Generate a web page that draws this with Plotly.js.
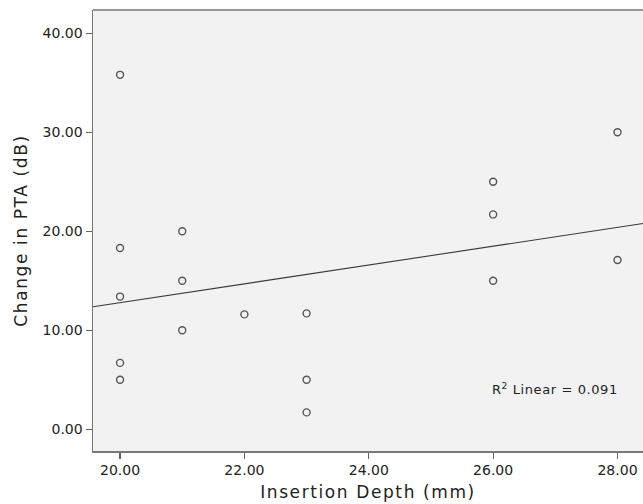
<!DOCTYPE html>
<html>
<head>
<meta charset="utf-8">
<script src="https://cdn.plot.ly/plotly-3.0.1.min.js"></script>
<style>
html,body{margin:0;padding:0;background:#fff;}
#chart{width:643px;height:504px;}
#chart .xtitle, #chart .ytitle{letter-spacing:1.6px;}
#chart .annotation-text{letter-spacing:0.6px;}
</style>
</head>
<body>
<div id="chart"></div>
<script>
// Data
const insertionDepth = [20, 20, 20, 20, 20, 21, 21, 21, 22, 23, 23, 23, 26, 26, 26, 28, 28];
const changeInPTA   = [35.8, 18.3, 13.4, 6.7, 5.0, 20.0, 15.0, 10.0, 11.6, 11.7, 5.0, 1.7, 25.0, 21.7, 15.0, 30.0, 17.1];
const xTickVals = [20, 22, 24, 26, 28];
const yTickVals = [0, 10, 20, 30, 40];
const r2Label = 'R<sup>2</sup> Linear = 0.091';

const xRange = [19.565, 28.41];
const yRange = [-2.2, 42.35];

// least squares fit from the data
const n = insertionDepth.length;
const mx = insertionDepth.reduce((a, b) => a + b, 0) / n;
const my = changeInPTA.reduce((a, b) => a + b, 0) / n;
let sxy = 0, sxx = 0;
for (let i = 0; i < n; i++) {
  sxy += (insertionDepth[i] - mx) * (changeInPTA[i] - my);
  sxx += (insertionDepth[i] - mx) ** 2;
}
const slope = sxy / sxx;
const intercept = my - slope * mx;
const fitX = [xRange[0], xRange[1]];
const fitY = fitX.map(x => intercept + slope * x);

const font = 'DejaVu Sans, sans-serif';

Plotly.newPlot('chart', [
  {
    x: fitX, y: fitY, mode: 'lines', type: 'scatter',
    line: {color: '#3a3a3a', width: 1.1}, hoverinfo: 'skip', cliponaxis: true
  },
  {
    x: insertionDepth, y: changeInPTA, mode: 'markers', type: 'scatter',
    marker: {symbol: 'circle-open', size: 7, color: '#555', line: {width: 1.4, color: '#555'}}
  }
], {
  width: 643, height: 504,
  margin: {l: 93, r: 0, t: 10, b: 53},
  paper_bgcolor: '#ffffff',
  plot_bgcolor: '#f2f2f2',
  showlegend: false,
  font: {family: font, color: '#222', size: 14},
  xaxis: {
    range: xRange, tickvals: xTickVals, ticktext: xTickVals.map(v => v.toFixed(2)),
    showgrid: false, zeroline: false, showline: true, linecolor: '#777', linewidth: 1.5,
    ticks: 'outside', ticklen: 6, tickcolor: '#666', tickwidth: 1.2,
    tickfont: {family: font, size: 14, color: '#222'},
    title: {text: 'Insertion Depth (mm)', font: {family: font, size: 17, color: '#222'}, standoff: 9}
  },
  yaxis: {
    range: yRange, tickvals: yTickVals, ticktext: yTickVals.map(v => v.toFixed(2)),
    showgrid: false, zeroline: false, showline: true, linecolor: '#777', linewidth: 1.5,
    ticks: 'outside', ticklen: 6, tickcolor: '#666', tickwidth: 1.2,
    tickfont: {family: font, size: 14, color: '#222'},
    title: {text: 'Change in PTA (dB)', font: {family: font, size: 17, color: '#222'}, standoff: 10}
  },
  shapes: [
    {type: 'line', xref: 'paper', yref: 'paper', x0: 0, x1: 1, y0: 1, y1: 1, line: {color: '#777', width: 1.5}}
  ],
  annotations: [
    {xref: 'x', yref: 'y', x: 27.0, y: 4.1, text: r2Label, showarrow: false,
     font: {family: font, size: 13, color: '#222'}}
  ]
}, {displayModeBar: false, staticPlot: true});
</script>
</body>
</html>
